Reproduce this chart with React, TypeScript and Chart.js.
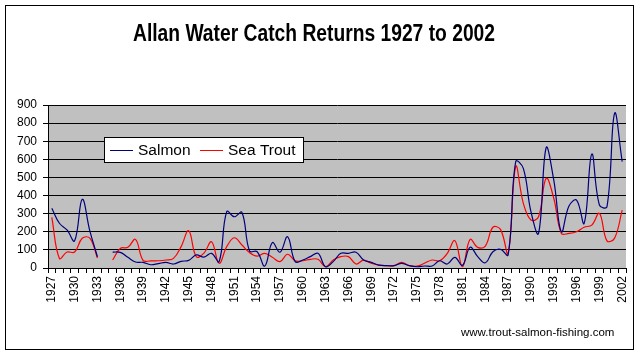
import React, { useEffect, useRef } from "react";
import { Chart, registerables } from "chart.js";

Chart.register(...registerables);

const years: string[] = [
  "1927","1928","1929","1930","1931","1932","1933","1934","1935","1936",
  "1937","1938","1939","1940","1941","1942","1943","1944","1945","1946",
  "1947","1948","1949","1950","1951","1952","1953","1954","1955","1956",
  "1957","1958","1959","1960","1961","1962","1963","1964","1965","1966",
  "1967","1968","1969","1970","1971","1972","1973","1974","1975","1976",
  "1977","1978","1979","1980","1981","1982","1983","1984","1985","1986",
  "1987","1988","1989","1990","1991","1992","1993","1994","1995","1996",
  "1997","1998","1999","2000","2001","2002",
];

const salmon: (number | null)[] = [
  330, 247, 210, 150, 379, 205, 62, null, 88, 86,
  59, 33, 31, 18, 24, 31, 22, 37, 42, 72,
  60, 81, 35, 311, 283, 307, 94, 90, 11, 140,
  87, 173, 35, 44, 63, 81, 7, 35, 81, 81,
  87, 44, 31, 16, 13, 13, 26, 13, 7, 11,
  11, 40, 22, 59, 15, 114, 63, 29, 90, 103,
  72, 587, 550, 311, 191, 664, 486, 200, 342, 375,
  247, 629, 348, 339, 854, 587,
];

const seaTrout: (number | null)[] = [
  280, 53, 88, 88, 164, 165, 55, null, 44, 108,
  114, 158, 42, 39, 40, 44, 53, 118, 206, 62,
  82, 145, 26, 118, 167, 127, 85, 66, 81, 59,
  35, 76, 40, 40, 48, 48, 7, 44, 63, 63,
  22, 44, 26, 16, 13, 13, 31, 13, 10, 26,
  44, 40, 81, 151, 7, 158, 114, 121, 225, 213,
  81, 560, 357, 265, 283, 495, 385, 191, 191, 200,
  225, 237, 302, 150, 165, 320,
];

const labelEvery = 3;
const titleText = "Allan Water Catch Returns 1927 to 2002";
const urlText = "www.trout-salmon-fishing.com";
const seriesNames = ["Salmon", "Sea Trout"];
const seriesColors = ["#000080", "#FF0000"];

const decorPlugin = {
  id: "decor",
  beforeDraw(chart: any) {
    const { ctx, chartArea } = chart;
    ctx.save();
    ctx.fillStyle = "#ffffff";
    ctx.fillRect(0, 0, chart.width, chart.height);
    ctx.fillStyle = "#C0C0C0";
    ctx.fillRect(chartArea.left, chartArea.top, chartArea.right - chartArea.left, chartArea.bottom - chartArea.top);
    ctx.restore();
  },
  afterDraw(chart: any) {
    const { ctx } = chart;
    ctx.save();
    // outer border
    ctx.strokeStyle = "#000000";
    ctx.lineWidth = 1;
    ctx.strokeRect(5.5, 5.5, 628, 344);
    // title (tall, slightly condensed like the original)
    ctx.fillStyle = "#000000";
    ctx.font = "bold 23px 'Liberation Sans', Arial, sans-serif";
    ctx.textAlign = "center";
    ctx.textBaseline = "alphabetic";
    const w = ctx.measureText(titleText).width;
    const sx = 362 / w;
    ctx.save();
    ctx.translate(314, 40.5);
    ctx.scale(sx, 1);
    ctx.fillText(titleText, 0, 0);
    ctx.restore();
    // url
    ctx.font = "11.5px 'Liberation Sans', Arial, sans-serif";
    ctx.textAlign = "left";
    ctx.textBaseline = "middle";
    ctx.fillText(urlText, 461, 333);
    // legend
    ctx.fillStyle = "#ffffff";
    ctx.fillRect(104.5, 137.5, 199, 25);
    ctx.strokeRect(104.5, 137.5, 199, 25);
    ctx.font = "15.5px 'Liberation Sans', Arial, sans-serif";
    const items = [
      { x: 110, tx: 138 },
      { x: 200, tx: 228 },
    ];
    items.forEach((it, i) => {
      ctx.strokeStyle = seriesColors[i];
      ctx.beginPath();
      ctx.moveTo(it.x, 150.5);
      ctx.lineTo(it.x + 23, 150.5);
      ctx.stroke();
      ctx.fillStyle = "#000000";
      ctx.fillText(seriesNames[i], it.tx, 150.5);
    });
    ctx.restore();
  },
};

export default function App() {
  const ref = useRef<HTMLCanvasElement | null>(null);
  useEffect(() => {
    if (!ref.current) return;
    const chart = new Chart(ref.current, {
      type: "line",
      data: {
        labels: years,
        datasets: [
          {
            label: seriesNames[0],
            data: salmon,
            borderColor: seriesColors[0],
            borderWidth: 1.2,
            pointRadius: 0,
            tension: 0.4,
            fill: false,
            spanGaps: false,
          },
          {
            label: seriesNames[1],
            data: seaTrout,
            borderColor: seriesColors[1],
            borderWidth: 1.2,
            pointRadius: 0,
            tension: 0.4,
            fill: false,
            spanGaps: false,
          },
        ],
      },
      options: {
        animation: false,
        responsive: false,
        maintainAspectRatio: false,
        devicePixelRatio: 1,
        layout: { padding: { left: 0, right: 15, top: 105, bottom: 0 } },
        plugins: {
          legend: { display: false },
          title: { display: false },
          tooltip: { enabled: false },
        },
        scales: {
          x: {
            type: "category",
            offset: true,
            grid: {
              display: true,
              drawOnChartArea: false,
              offset: true,
              tickLength: 5,
              color: "#000000",
            },
            border: { display: true, color: "#000000" },
            ticks: {
              autoSkip: false,
              minRotation: 90,
              maxRotation: 90,
              padding: 3,
              color: "#000000",
              font: { family: "'Liberation Sans', Arial, sans-serif", size: 12 },
              callback: function (this: any, _v: any, i: number) {
                return i % labelEvery === 0 ? years[i] : "";
              },
            },
            afterFit(scale: any) {
              scale.height = 88;
            },
          },
          y: {
            min: 0,
            max: 900,
            grid: {
              color: "#000000",
              tickLength: 5,
            },
            border: { display: true, color: "#000000" },
            ticks: {
              stepSize: 100,
              padding: 6,
              color: "#000000",
              font: { family: "'Liberation Sans', Arial, sans-serif", size: 12 },
            },
            afterFit(scale: any) {
              scale.width = 48;
            },
          },
        },
      },
      plugins: [decorPlugin],
    });
    return () => chart.destroy();
  }, []);
  return (
    <div style={{ position: "absolute", left: 0, top: 0, width: 641, height: 356 }}>
      <canvas ref={ref} width={641} height={356} style={{ width: 641, height: 356, display: "block" }} />
    </div>
  );
}
